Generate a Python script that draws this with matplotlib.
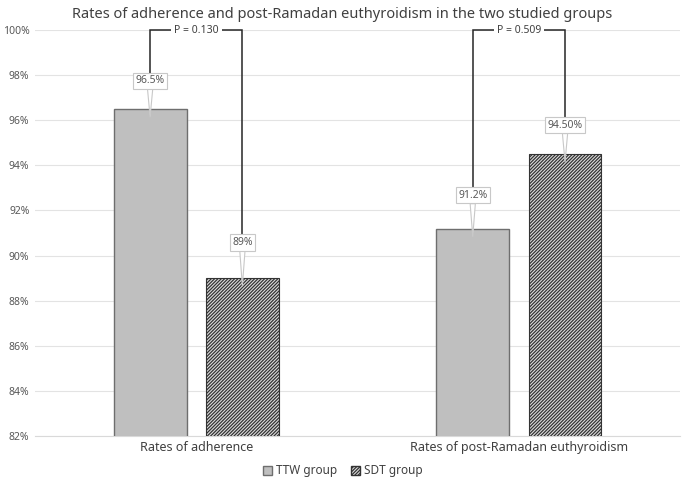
import matplotlib
matplotlib.use("Agg")
import matplotlib.pyplot as plt
import numpy as np
from matplotlib.patches import Patch

categories = ["Rates of adherence", "Rates of post-Ramadan euthyroidism"]
series_names = ["TTW group", "SDT group"]
ttw_values = [96.5, 91.2]
sdt_values = [89.0, 94.5]
ttw_labels = ["96.5%", "91.2%"]
sdt_labels = ["89%", "94.50%"]
p_values = ["P = 0.130", "P = 0.509"]
yticks = [82, 84, 86, 88, 90, 92, 94, 96, 98, 100]

plt.rcParams['font.family'] = ['Noto Sans', 'DejaVu Sans']
plt.rcParams['hatch.color'] = '#333333'
plt.rcParams['hatch.linewidth'] = 0.9

fig = plt.figure(figsize=(6.85, 4.86), dpi=100)
ax = fig.add_axes([0.051, 0.103, 0.942, 0.835])

x = np.arange(len(categories))
w = 0.226
off = 0.143
hatch = '/' * 10
ax.bar(x - off, ttw_values, w, color='#bfbfbf', edgecolor='#6e6e6e', linewidth=1.0, zorder=3)
ax.bar(x + off, sdt_values, w, color='#dcdcdc', edgecolor='#333333', hatch=hatch, linewidth=0.8, zorder=3)

ax.set_ylim(82, 100)
ax.set_xlim(-0.5, 1.5)
ax.set_yticks(yticks)
ax.set_yticklabels([f"{t}%" for t in yticks], fontsize=7.5, color='#595959')
ax.set_xticks(x)
ax.set_xticklabels(categories, fontsize=9, color='#404040')
ax.tick_params(axis='both', length=0, pad=4)
ax.grid(axis='y', color='#e3e3e3', linewidth=0.8, zorder=0)
for s in ['top', 'right', 'left']:
    ax.spines[s].set_visible(False)
ax.spines['bottom'].set_color('#d9d9d9')

def callout(xb, yb, text, ytext):
    ax.annotate(text, xy=(xb, yb - 0.35), xytext=(xb, ytext),
                ha='center', va='center', fontsize=7.5, color='#595959', zorder=6,
                bbox=dict(boxstyle='square,pad=0.25', fc='white', ec='#c8c8c8', lw=0.8),
                arrowprops=dict(arrowstyle='wedge,tail_width=0.5,shrink_factor=0.5', fc='white',
                                ec='#c8c8c8', lw=0.8, shrinkA=0, shrinkB=0))

ttw_label_y = [97.76, 92.68]
sdt_label_y = [90.58, 95.79]
for i in range(2):
    callout(x[i] - off, ttw_values[i], ttw_labels[i], ttw_label_y[i])
    callout(x[i] + off, sdt_values[i], sdt_labels[i], sdt_label_y[i])

left_bottom = [98.09, 93.04]
right_bottom = [90.96, 96.1]
for i in range(2):
    xl, xr = x[i] - off, x[i] + off
    ax.plot([xl, xl, xr, xr], [left_bottom[i], 100, 100, right_bottom[i]],
            color='#262626', lw=1.1, zorder=4, clip_on=False, solid_joinstyle='miter')
    ax.text(x[i], 100, p_values[i], ha='center', va='center', fontsize=7.5, color='#404040',
            zorder=5, bbox=dict(boxstyle='square,pad=0.3', fc='white', ec='none'))

fig.suptitle("Rates of adherence and post-Ramadan euthyroidism in the two studied groups",
             x=0.5, y=0.985, fontsize=10.5, color='#404040')

handles = [Patch(facecolor='#bfbfbf', edgecolor='#6e6e6e'),
           Patch(facecolor='#dcdcdc', edgecolor='#333333', hatch=hatch)]
fig.legend(handles, series_names, loc='center', bbox_to_anchor=(0.5, 0.031), ncol=2,
           frameon=False, fontsize=8.5, handlelength=0.8, handleheight=0.8,
           handletextpad=0.3, columnspacing=1.2, labelcolor='#404040')

fig.savefig("out.png", dpi=100)
